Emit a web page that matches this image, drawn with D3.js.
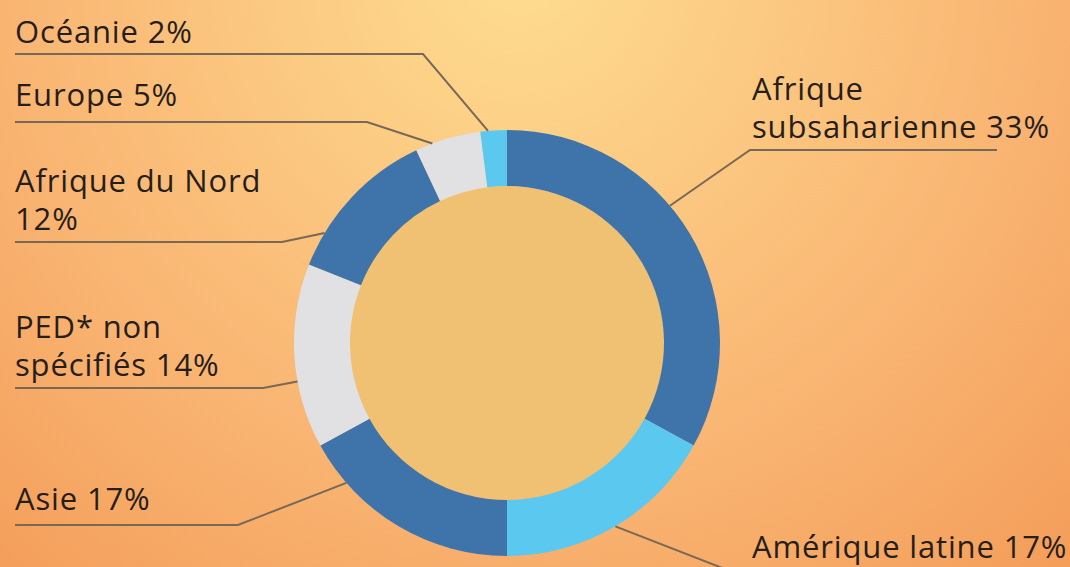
<!DOCTYPE html>
<html>
<head>
<meta charset="utf-8">
<script src="https://cdn.jsdelivr.net/npm/d3@7"></script>
<style>
  body { margin: 0; padding: 0; overflow: hidden; }
  text { font-family: "Open Sans", sans-serif; }
</style>
</head>
<body>
<div id="chart"></div>
<script>
// data
var regions = ["Afrique subsaharienne", "Amérique latine", "Asie", "PED* non spécifiés", "Afrique du Nord", "Europe", "Océanie"];
var shares = [33, 17, 17, 14, 12, 5, 2];
var labelLines = [
  ["Afrique", "subsaharienne 33%"],
  ["Amérique latine 17%"],
  ["Asie 17%"],
  ["PED* non", "spécifiés 14%"],
  ["Afrique du Nord", "12%"],
  ["Europe 5%"],
  ["Océanie 2%"]
];

var colors = ["#3e74a9", "#5bc8f0", "#3e74a9", "#e1e1e3", "#3e74a9", "#e1e1e3", "#5bc8f0"];

// where each label sits: text x, first baseline, underline y, elbow x, far end x, attach point inside slice
var layout = [
  { x: 752, y: 100, lineY: 150, elbow: 750, end: 997, attach: 0.42 },
  { x: 752, y: 558, lineY: 578, elbow: 748, end: 1070, attach: 0.5 },
  { x: 15, y: 510, lineY: 525, elbow: 238, end: 15, attach: 0.8 },
  { x: 15, y: 338, lineY: 388, elbow: 263, end: 15, attach: 0.365 },
  { x: 15, y: 192, lineY: 242, elbow: 282, end: 15, attach: 0.22 },
  { x: 15, y: 106, lineY: 122, elbow: 367, end: 15, attach: 0.26 },
  { x: 15, y: 43, lineY: 54, elbow: 423, end: 15, attach: 0.29 }
];

var width = 1070, height = 567;
var cx = 507, cy = 343;
var outerR = 213, innerR = 157;

var svg = d3.select("#chart")
  .append("svg")
  .attr("width", width)
  .attr("height", height);

// background gradient
var defs = svg.append("defs");
var grad = defs.append("radialGradient")
  .attr("id", "bg")
  .attr("gradientUnits", "userSpaceOnUse")
  .attr("cx", 520).attr("cy", -30).attr("r", 800);
grad.append("stop").attr("offset", 0).attr("stop-color", "#fedd90");
grad.append("stop").attr("offset", 0.65).attr("stop-color", "#f9b472");
grad.append("stop").attr("offset", 1).attr("stop-color", "#f49e5a");

svg.append("rect")
  .attr("width", width)
  .attr("height", height)
  .attr("fill", "url(#bg)");

var g = svg.append("g")
  .attr("transform", "translate(" + cx + "," + cy + ")");

// inner disc
g.append("circle")
  .attr("r", innerR)
  .attr("fill", "#f0c172");

var pie = d3.pie().sort(null).value(function (d) { return d; });
var arcs = pie(shares);

var arc = d3.arc()
  .innerRadius(innerR)
  .outerRadius(outerR);

g.selectAll("path.slice")
  .data(arcs)
  .enter()
  .append("path")
  .attr("class", "slice")
  .attr("d", arc)
  .attr("fill", function (d, i) { return colors[i]; });

// leader lines
var leaders = svg.append("g");
arcs.forEach(function (d, i) {
  var l = layout[i];
  var a = d.startAngle + (d.endAngle - d.startAngle) * l.attach;
  var p = d3.pointRadial(a, outerR);
  var pts = [[cx + p[0], cy + p[1]], [l.elbow, l.lineY], [l.end, l.lineY]];
  leaders.append("path")
    .attr("d", d3.line()(pts))
    .attr("fill", "none")
    .attr("stroke", "#786856")
    .attr("stroke-width", 2);
});

// labels
var labels = svg.append("g");
labelLines.forEach(function (lines, i) {
  var l = layout[i];
  var t = labels.append("text")
    .attr("x", l.x)
    .attr("y", l.y)
    .attr("fill", "#261e1b")
    .style("font-size", "31px")
    .style("letter-spacing", "0.85px");
  lines.forEach(function (s, j) {
    t.append("tspan")
      .attr("x", l.x)
      .attr("dy", j === 0 ? 0 : 38)
      .text(s);
  });
});
</script>
</body>
</html>
